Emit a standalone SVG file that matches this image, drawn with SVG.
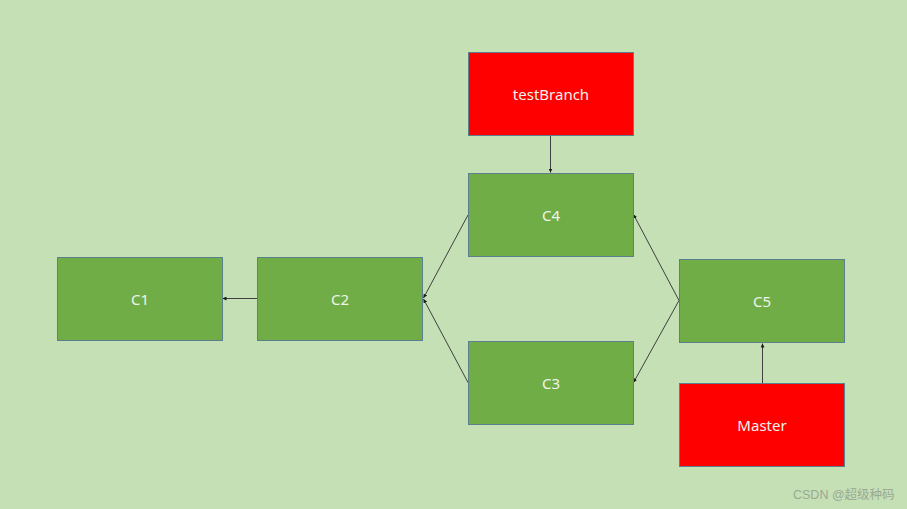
<svg xmlns="http://www.w3.org/2000/svg" width="907" height="509" viewBox="0 0 907 509">
  <style>
    .commit { fill: #70ad47; stroke: #5b7f8c; stroke-width: 1; }
    .branch { fill: #ff0000; stroke: #5b7f8c; stroke-width: 1; }
    .label { font-family: "Noto Sans", "Liberation Sans", sans-serif; font-size: 15px; fill: #eef5ea; text-anchor: middle; dominant-baseline: central; }
    .edge { stroke: #3f3f3f; stroke-width: 1; fill: none; marker-end: url(#head); }
    .mark { font-family: "Liberation Sans", "Noto Sans CJK SC", sans-serif; font-size: 12.5px; fill: #9aa894; }
  </style>
  <defs>
    <marker id="head" viewBox="0 0 6 6" refX="6" refY="3" markerWidth="4" markerHeight="4" orient="auto" markerUnits="userSpaceOnUse">
      <path d="M0,0 L6,3 L0,6 Z" fill="#1a1a1a"/>
    </marker>
  </defs>

  <rect x="0" y="0" width="907" height="509" fill="#c5e0b4"/>

  <g id="connectors">
    <line class="edge" x1="257" y1="298.5" x2="222.5" y2="298.5"/>
    <line class="edge" x1="468" y1="215" x2="423.5" y2="298"/>
    <line class="edge" x1="468" y1="382.5" x2="423.5" y2="299"/>
    <line class="edge" x1="679" y1="300.5" x2="633.5" y2="214.5"/>
    <line class="edge" x1="679" y1="300.5" x2="633.5" y2="382.5"/>
    <line class="edge" x1="550.5" y1="135" x2="550.5" y2="172.5"/>
    <line class="edge" x1="762.5" y1="383" x2="762.5" y2="343.5"/>
  </g>

  <g id="C1">
    <rect class="commit" x="57.5" y="257.5" width="165" height="83"/>
    <text class="label" x="140" y="298.5">C1</text>
  </g>
  <g id="C2">
    <rect class="commit" x="257.5" y="257.5" width="165" height="83"/>
    <text class="label" x="340" y="298.5">C2</text>
  </g>
  <g id="testBranch">
    <rect class="branch" x="468.5" y="52.5" width="165" height="83"/>
    <text class="label" x="551" y="93.5">testBranch</text>
  </g>
  <g id="C4">
    <rect class="commit" x="468.5" y="173.5" width="165" height="83"/>
    <text class="label" x="551" y="214.5">C4</text>
  </g>
  <g id="C3">
    <rect class="commit" x="468.5" y="341.5" width="165" height="83"/>
    <text class="label" x="551" y="382.5">C3</text>
  </g>
  <g id="C5">
    <rect class="commit" x="679.5" y="259.5" width="165" height="83"/>
    <text class="label" x="762" y="300.5">C5</text>
  </g>
  <g id="Master">
    <rect class="branch" x="679.5" y="383.5" width="165" height="83"/>
    <text class="label" x="762" y="424.5">Master</text>
  </g>

  <text class="mark" x="793" y="499">CSDN @超级种码</text>
</svg>
